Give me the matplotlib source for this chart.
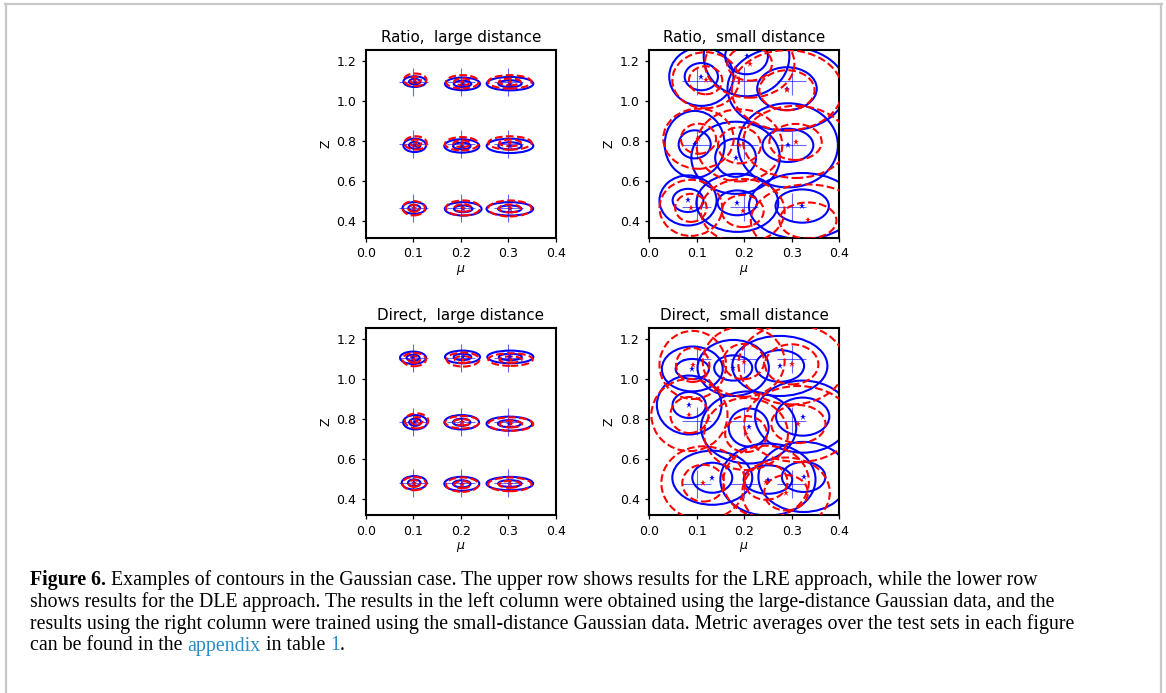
import numpy as np
import matplotlib
matplotlib.use("Agg")
import matplotlib.pyplot as plt
from matplotlib.patches import Ellipse
from matplotlib.lines import Line2D

# ---------------------------------------------------------------------------
# Data: true parameter grid and fitted contour ellipses.
# Each entry: (mu, Z, a_inner, b_inner[, a_outer, b_outer]); when the outer
# half-axes are omitted the outer contour is drawn at twice the inner size.
# ---------------------------------------------------------------------------
mu_true = [0.1, 0.2, 0.3]

# Ratio, large distance
z_true_rl = [1.097, 0.785, 0.468]
blue_rl = [
    (0.103, 1.098, 0.0119, 0.0133), (0.2035, 1.087, 0.0184, 0.0158), (0.3033, 1.088, 0.0245, 0.0167),
    (0.103, 0.780, 0.0119, 0.0167), (0.202, 0.777, 0.0184, 0.0167), (0.3033, 0.7775, 0.0245, 0.0179),
    (0.102, 0.4675, 0.0123, 0.0146), (0.205, 0.463, 0.0193, 0.0167), (0.303, 0.463, 0.0245, 0.0167),
]
red_rl = [
    (0.104, 1.107, 0.0119, 0.0158), (0.203, 1.097, 0.0172, 0.0167), (0.303, 1.097, 0.0228, 0.0167),
    (0.105, 0.792, 0.0117, 0.0167), (0.2017, 0.788, 0.0175, 0.0167), (0.3033, 0.792, 0.0228, 0.0167),
    (0.101, 0.466, 0.0117, 0.0179), (0.2046, 0.4675, 0.0179, 0.0188), (0.303, 0.465, 0.0228, 0.0200),
]

# Ratio, small distance
z_true_rs = [1.100, 0.783, 0.472]
blue_rs = [
    (0.110, 1.123, 0.035, 0.068, 0.0675, 0.146), (0.205, 1.225, 0.045, 0.090, 0.090, 0.200),
    (0.290, 1.063, 0.0626, 0.107, 0.125, 0.210),
    (0.096, 0.785, 0.0337, 0.070, 0.063, 0.167), (0.182, 0.718, 0.0429, 0.095, 0.093, 0.180),
    (0.292, 0.780, 0.0534, 0.083, 0.105, 0.210),
    (0.082, 0.505, 0.0323, 0.058, 0.060, 0.125), (0.1856, 0.493, 0.0415, 0.062, 0.086, 0.145),
    (0.322, 0.477, 0.056, 0.083, 0.112, 0.165),
]
red_rs = [
    (0.119, 1.105, 0.035, 0.070), (0.2116, 1.188, 0.047, 0.085), (0.290, 1.055, 0.058, 0.100),
    (0.104, 0.813, 0.037, 0.075), (0.190, 0.780, 0.045, 0.090), (0.308, 0.797, 0.055, 0.090),
    (0.088, 0.468, 0.033, 0.070), (0.197, 0.452, 0.044, 0.080), (0.334, 0.405, 0.060, 0.090),
]

# Direct, large distance
z_true_dl = [1.107, 0.787, 0.482]
blue_dl = [
    (0.0995, 1.106, 0.0137, 0.0154), (0.2035, 1.110, 0.0184, 0.0158), (0.304, 1.110, 0.0242, 0.0158),
    (0.104, 0.784, 0.0126, 0.0179), (0.2017, 0.784, 0.0182, 0.0179), (0.302, 0.777, 0.0240, 0.0175),
    (0.102, 0.4817, 0.0131, 0.0167), (0.202, 0.4767, 0.0184, 0.0175), (0.303, 0.478, 0.0245, 0.0167),
]
red_dl = [
    (0.102, 1.097, 0.0123, 0.0167), (0.2046, 1.097, 0.0172, 0.0175), (0.3044, 1.097, 0.0233, 0.0158),
    (0.107, 0.791, 0.0123, 0.0188), (0.203, 0.784, 0.0180, 0.0154), (0.305, 0.775, 0.0236, 0.0167),
    (0.102, 0.478, 0.0123, 0.0167), (0.203, 0.4725, 0.0170, 0.0179), (0.303, 0.474, 0.0228, 0.0171),
]

# Direct, small distance
z_true_ds = [1.102, 0.792, 0.477]
blue_ds = [
    (0.091, 1.050, 0.035, 0.050, 0.064, 0.112), (0.177, 1.055, 0.040, 0.063, 0.075, 0.140),
    (0.275, 1.065, 0.051, 0.079, 0.100, 0.150),
    (0.0845, 0.870, 0.035, 0.065, 0.068, 0.147), (0.2095, 0.758, 0.042, 0.095, 0.100, 0.180),
    (0.323, 0.812, 0.056, 0.095, 0.100, 0.180),
    (0.133, 0.507, 0.042, 0.075, 0.084, 0.135), (0.250, 0.498, 0.051, 0.071, 0.100, 0.180),
    (0.325, 0.511, 0.0457, 0.075, 0.095, 0.175),
]
red_ds = [
    (0.092, 1.070, 0.035, 0.085), (0.199, 1.087, 0.043, 0.088), (0.300, 1.073, 0.056, 0.100),
    (0.085, 0.820, 0.040, 0.090), (0.204, 0.725, 0.044, 0.090), (0.314, 0.775, 0.057, 0.095),
    (0.114, 0.480, 0.044, 0.092), (0.246, 0.487, 0.045, 0.090), (0.288, 0.432, 0.046, 0.088),
]

panel_titles = ["Ratio,  large distance", "Ratio,  small distance",
                "Direct,  large distance", "Direct,  small distance"]

x_ticks = [0.0, 0.1, 0.2, 0.3, 0.4]
y_ticks = [0.4, 0.6, 0.8, 1.0, 1.2]

# ---------------------------------------------------------------------------
W, H, DPI = 1166, 693, 100
fig = plt.figure(figsize=(W / DPI, H / DPI), dpi=DPI)
fig.patch.set_facecolor("white")


def px_axes(left, top, width, height):
    return fig.add_axes([left / W, 1 - (top + height) / H, width / W, height / H])


def contour_pair(ax, entry, color, ls, z):
    m, c, a1, b1 = entry[:4]
    a2, b2 = (entry[4], entry[5]) if len(entry) > 4 else (2 * a1, 2 * b1)
    for a, b in ((a1, b1), (a2, b2)):
        ax.add_patch(Ellipse((m, c), 2 * a, 2 * b, fill=False, ec=color,
                             lw=1.5, ls=ls, zorder=z))


def draw_panel(ax, title, z_true, blue, red):
    tm, tz = np.meshgrid(mu_true, z_true)
    ax.errorbar(tm.ravel(), tz.ravel(), xerr=0.03, yerr=0.07, fmt="none",
                ecolor="blue", elinewidth=0.8, alpha=0.6, capsize=0, zorder=1)
    for e in blue:
        contour_pair(ax, e, "blue", "-", 2)
    for e in red:
        contour_pair(ax, e, "red", "--", 3)
    ax.plot([p[0] for p in blue], [p[1] for p in blue], "*", color="blue",
            ms=4.5, mew=0, zorder=4)
    ax.plot([p[0] for p in red], [p[1] for p in red], "*", color="red",
            ms=4.5, mew=0, zorder=4)
    ax.set_xlim(0.0, 0.4)
    ax.set_ylim(0.32, 1.256)
    ax.set_xticks(x_ticks)
    ax.set_yticks(y_ticks)
    ax.set_xticklabels([f"{v:.1f}" for v in x_ticks])
    ax.set_yticklabels([f"{v:.1f}" for v in y_ticks])
    ax.tick_params(labelsize=9, length=3.2, width=0.9)
    for s in ax.spines.values():
        s.set_linewidth(1.5)
    ax.set_title(title, fontsize=10.9, pad=5.5)
    ax.set_xlabel(r"$\mu$", fontsize=9, labelpad=2)
    ax.set_ylabel("Z", fontsize=9, labelpad=3)


ax_w, ax_h = 190.3, 187.5
ax_rl = px_axes(365.7, 50.0, ax_w, ax_h)
ax_rs = px_axes(649.0, 50.0, ax_w, ax_h)
ax_dl = px_axes(365.7, 327.7, ax_w, ax_h)
ax_ds = px_axes(649.0, 327.7, ax_w, ax_h)

draw_panel(ax_rl, panel_titles[0], z_true_rl, blue_rl, red_rl)
draw_panel(ax_rs, panel_titles[1], z_true_rs, blue_rs, red_rs)
draw_panel(ax_dl, panel_titles[2], z_true_dl, blue_dl, red_dl)
draw_panel(ax_ds, panel_titles[3], z_true_ds, blue_ds, red_ds)

# Page frame
frame_col = "#c8c8c8"
fig.add_artist(Line2D([5 / W, 1162 / W], [1 - 4 / H, 1 - 4 / H], color=frame_col, lw=1.6))
fig.add_artist(Line2D([6 / W, 6 / W], [0, 1 - 4 / H], color=frame_col, lw=1.6))
fig.add_artist(Line2D([1161 / W, 1161 / W], [0, 1 - 4 / H], color=frame_col, lw=1.6))

# ---------------------------------------------------------------------------
# Caption
# ---------------------------------------------------------------------------
link_col = "#2a8bc6"
caption = [
    [("Figure 6.", "bold", "black"),
     ("Examples of contours in the Gaussian case. The upper row shows results for the LRE approach, while the lower row", "normal", "black")],
    [("shows results for the DLE approach. The results in the left column were obtained using the large-distance Gaussian data, and the", "normal", "black")],
    [("results using the right column were trained using the small-distance Gaussian data. Metric averages over the test sets in each figure", "normal", "black")],
    [("can be found in the", "normal", "black"), ("appendix", "normal", link_col),
     ("in table", "normal", "black"), ("1", "normal", link_col), (".", "normal", "black", "nospace")],
]
cap_font = "Liberation Serif"
cap_size = 14.3
cap_left = 30
cap_base = [585, 606.8, 628.5, 650.5]

fig.canvas.draw()
renderer = fig.canvas.get_renderer()


def text_width(s, weight="normal"):
    t = fig.text(0, 0, s, fontsize=cap_size, family=cap_font, weight=weight)
    w = t.get_window_extent(renderer).width
    t.remove()
    return w


space_w = text_width("a a") - text_width("aa")

for line, yb in zip(caption, cap_base):
    x = cap_left
    for i, piece in enumerate(line):
        s, weight, col = piece[:3]
        if i > 0 and not (len(piece) > 3 and piece[3] == "nospace"):
            x += space_w
        t = fig.text(x / W, 1 - yb / H, s, fontsize=cap_size, family=cap_font,
                     weight=weight, color=col, va="baseline", ha="left")
        x += t.get_window_extent(renderer).width

fig.savefig("out.png", dpi=DPI, facecolor="white")
